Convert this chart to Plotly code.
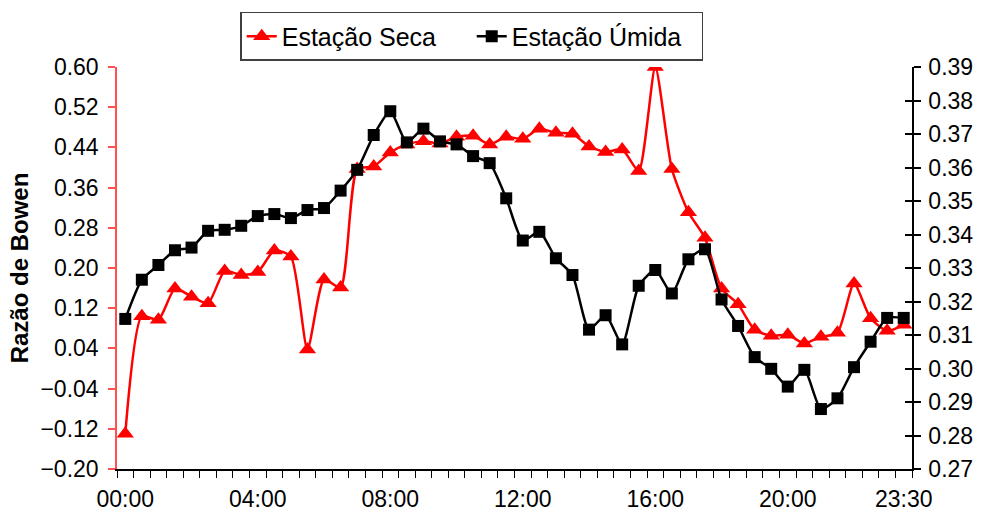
import plotly.graph_objects as go

times = [f"{h:02d}:{m:02d}" for h in range(24) for m in (0, 30)]

seca = [-0.13, 0.104, 0.097, 0.159, 0.143, 0.13, 0.194, 0.186, 0.192, 0.235,
        0.223, 0.038, 0.177, 0.161, 0.397, 0.402, 0.43, 0.446, 0.452, 0.448,
        0.461, 0.463, 0.446, 0.461, 0.457, 0.477, 0.469, 0.467, 0.442, 0.431,
        0.436, 0.393, 0.60, 0.397, 0.311, 0.26, 0.159, 0.128, 0.077, 0.065,
        0.067, 0.05, 0.063, 0.071, 0.169, 0.10, 0.075, 0.087]

umida = [0.3148, 0.3265, 0.3309, 0.3353, 0.3361, 0.3411, 0.3414, 0.3426, 0.3455, 0.3461,
         0.3449, 0.3473, 0.3479, 0.3531, 0.3593, 0.3697, 0.3768, 0.3675, 0.3716, 0.3678,
         0.3669, 0.3634, 0.3613, 0.3508, 0.3382, 0.3408, 0.3329, 0.3279, 0.3116, 0.3159,
         0.3072, 0.3247, 0.3294, 0.3224, 0.3326, 0.3356, 0.3206, 0.3127, 0.3034, 0.2999,
         0.2946, 0.2996, 0.2879, 0.2911, 0.3004, 0.3080, 0.3151, 0.3151]

tick_labels = ["00:00", "04:00", "08:00", "12:00", "16:00", "20:00", "23:30"]

left_ticks = [-0.20, -0.12, -0.04, 0.04, 0.12, 0.20, 0.28, 0.36, 0.44, 0.52, 0.60]
right_ticks = [0.27, 0.28, 0.29, 0.30, 0.31, 0.32, 0.33, 0.34, 0.35, 0.36, 0.37, 0.38, 0.39]

idx = list(range(len(times)))
tick_idx = [times.index(t) for t in tick_labels]

FONT = "Liberation Sans, Arial, sans-serif"

fig = go.Figure()
fig.add_trace(go.Scatter(
    x=idx, y=seca, name="Estação Seca", mode="lines+markers",
    line=dict(color="#ff0000", width=2.5, shape="spline", smoothing=0.6),
    marker=dict(symbol="triangle-up", size=15, color="#ff0000"),
    yaxis="y"))
fig.add_trace(go.Scatter(
    x=idx, y=umida, name="Estação Úmida", mode="lines+markers",
    line=dict(color="#000000", width=2.5, shape="spline", smoothing=0.6),
    marker=dict(symbol="square", size=12, color="#000000"),
    yaxis="y2"))
# invisible trace to host inner ticks of right axis
fig.add_trace(go.Scatter(x=[idx[0]], y=[right_ticks[0]], yaxis="y3",
                         mode="markers", marker=dict(opacity=0),
                         showlegend=False, hoverinfo="skip"))

fig.update_layout(
    width=985, height=524,
    margin=dict(l=117, r=67, t=66, b=48),
    paper_bgcolor="white", plot_bgcolor="white",
    font=dict(family=FONT, size=23, color="black"),
    showlegend=True,
    legend=dict(orientation="h", x=0.155, y=1.137, xanchor="left", yanchor="top",
                bordercolor="#404040", borderwidth=1.5, bgcolor="white",
                font=dict(size=25), tracegroupgap=0,
                entrywidth=185, entrywidthmode="pixels"),
    xaxis=dict(range=[-0.5, len(times) - 0.5], tickmode="array",
               tickvals=tick_idx, ticktext=tick_labels, ticks="",
               showline=True, linecolor="black", linewidth=1.5,
               showgrid=False, zeroline=False, ticklabelstandoff=9,
               minor=dict(tickvals=[i - 0.5 for i in range(len(times) + 1)],
                          ticks="outside", ticklen=7, tickcolor="black",
                          tickwidth=1, showgrid=False)),
    yaxis=dict(range=[-0.20, 0.60], tickmode="array", tickvals=left_ticks,
               tickformat=".2f", ticks="outside", ticklen=7, tickcolor="#ff5050",
               tickwidth=1.5, showline=True, linecolor="#ff5050", linewidth=1.5,
               showgrid=False, zeroline=False, ticklabelstandoff=5,
               title=dict(text="<b>Razão de Bowen</b>", font=dict(size=24), standoff=5)),
    yaxis2=dict(range=[0.27, 0.39], overlaying="y", side="right", tickmode="array",
                tickvals=right_ticks, tickformat=".2f", ticks="outside", ticklen=7,
                tickcolor="black", tickwidth=1.5, showline=True, linecolor="black",
                linewidth=1.5, showgrid=False, zeroline=False, ticklabelstandoff=3),
    yaxis3=dict(range=[0.27, 0.39], overlaying="y", side="right", tickmode="array",
                tickvals=right_ticks, showticklabels=False, ticks="inside", ticklen=7,
                tickcolor="black", tickwidth=1.5, showline=False, showgrid=False,
                zeroline=False),
)

fig.write_html("out.html")
